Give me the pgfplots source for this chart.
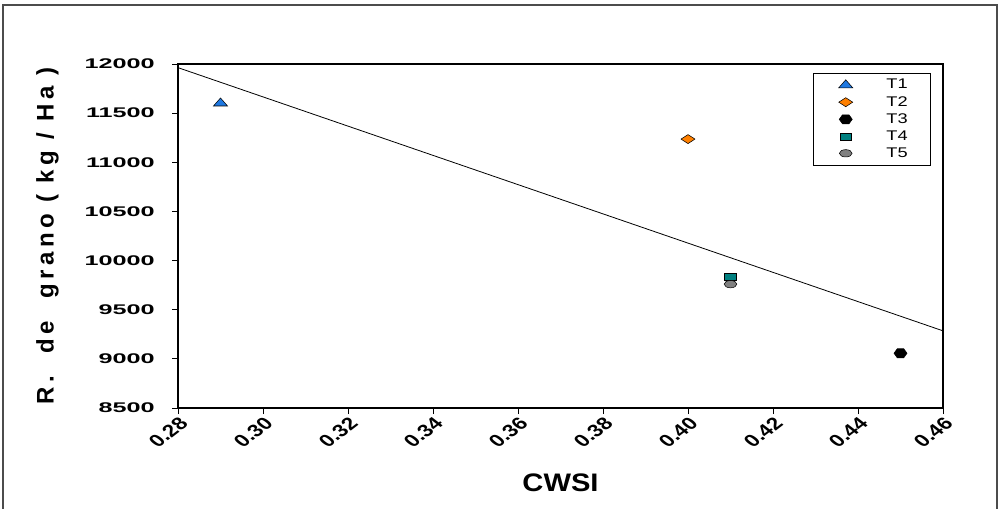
\documentclass[border=0pt]{standalone}
\usepackage{fontspec}
\setmainfont{Liberation Sans}
\newfontfamily\lgf[FakeStretch=1.3]{Liberation Sans}
\newfontfamily\ylf[LetterSpace=19]{Liberation Sans}
\usepackage{pgfplots}
\pgfplotsset{compat=1.18}
\frenchspacing
\definecolor{cT1}{RGB}{30,120,225}
\definecolor{cT2}{RGB}{255,128,0}
\definecolor{cT3}{RGB}{0,0,0}
\definecolor{cT4}{RGB}{0,128,128}
\definecolor{cT5}{RGB}{128,128,128}
\pgfdeclareplotmark{hexagon*}{%
  \pgfpathmoveto{\pgfqpoint{\pgfplotmarksize}{0pt}}%
  \pgfpathlineto{\pgfqpointpolar{60}{\pgfplotmarksize}}%
  \pgfpathlineto{\pgfqpointpolar{120}{\pgfplotmarksize}}%
  \pgfpathlineto{\pgfqpointpolar{180}{\pgfplotmarksize}}%
  \pgfpathlineto{\pgfqpointpolar{240}{\pgfplotmarksize}}%
  \pgfpathlineto{\pgfqpointpolar{300}{\pgfplotmarksize}}%
  \pgfpathclose
  \pgfusepathqfillstroke
}
\begin{document}
\begin{tikzpicture}
\useasboundingbox (0,0) rectangle (748.5pt,381pt);
\draw[black!70, line width=0.8pt] (2.25pt,-5pt) rectangle (747.75pt,377.25pt);
\begin{axis}[
  at={(133.5pt,75pt)}, anchor=south west,
  scale only axis, width=573.75pt, height=258pt,
  xmin=0.28, xmax=0.46, ymin=8500, ymax=12000,
  xtick={0.28,0.30,0.32,0.34,0.36,0.38,0.40,0.42,0.44,0.46},
  ytick={8500,9000,9500,10000,10500,11000,11500,12000},
  scaled y ticks=false, scaled x ticks=false,
  tick align=outside, tick pos=left, major tick length=4.5pt,
  tick style={black, line width=0.6pt},
  x axis line style={black!55, line width=0.9pt},
  y axis line style={black, line width=0.9pt},
  /pgf/number format/assume math mode=true,
  xticklabel style={font=\bfseries\fontsize{13}{14}\selectfont, xscale=1.3, rotate=45, anchor=north east, inner sep=1pt,
    /pgf/number format/.cd, fixed, fixed zerofill, precision=2},
  yticklabel style={font=\bfseries\fontsize{10.5}{11}\selectfont, xscale=1.8, anchor=east, xshift=-6pt, inner sep=1pt, /pgf/number format/1000 sep={}},
  xlabel={CWSI},
  xlabel style={font=\bfseries\fontsize{19}{20}\selectfont, at={(axis description cs:0.5,-0.2166)}, anchor=center, xscale=1.15},
  ylabel={R.\ \ de\ \ grano ( kg / Ha )},
  ylabel style={font=\ylf\bfseries\fontsize{18}{19}\selectfont, at={(axis description cs:-0.1706,0.5)}, anchor=center},
  legend cell align=left,
  legend image code/.code={\path[draw=none,fill=none] (0cm,-0.1cm) rectangle (0.6cm,0.1cm); \draw plot coordinates {(0.3cm,0cm)};},
  legend style={at={(rel axis cs:0.984,0.974)}, anchor=north east, draw=black, line width=0.6pt,
    font=\lgf\fontsize{10.5}{11}\selectfont, inner xsep=16pt, inner ysep=3.5pt,
    row sep=2pt, column sep=21pt, nodes={inner sep=1pt}},
]
\addplot[black, line width=0.6pt, forget plot] coordinates {(0.28,11963) (0.46,9285)};
\addplot[only marks, mark=triangle*, mark size=4pt, mark options={xscale=1.52, fill=cT1, draw=black, line width=0.4pt}] coordinates {(0.29,11600)};
\addlegendentry{T1}
\addplot[only marks, mark=diamond*, mark size=3.375pt, mark options={xscale=2.07, fill=cT2, draw=black, line width=0.4pt}] coordinates {(0.40,11236)};
\addlegendentry{T2}
\addplot[only marks, mark=hexagon*, mark size=3.9pt, mark options={xscale=1.25, fill=cT3, draw=black, line width=0.4pt}] coordinates {(0.45,9057)};
\addlegendentry{T3}
\addplot[only marks, mark=square*, mark size=2.6pt, mark options={xscale=1.7, fill=cT4, draw=black, line width=0.4pt}] coordinates {(0.41,9831)};
\addlegendentry{T4}
\addplot[only marks, mark=*, mark size=2.75pt, mark options={xscale=1.73, fill=cT5, draw=black, line width=0.4pt}] coordinates {(0.41,9760)};
\addlegendentry{T5}
\end{axis}
\end{tikzpicture}
\end{document}
